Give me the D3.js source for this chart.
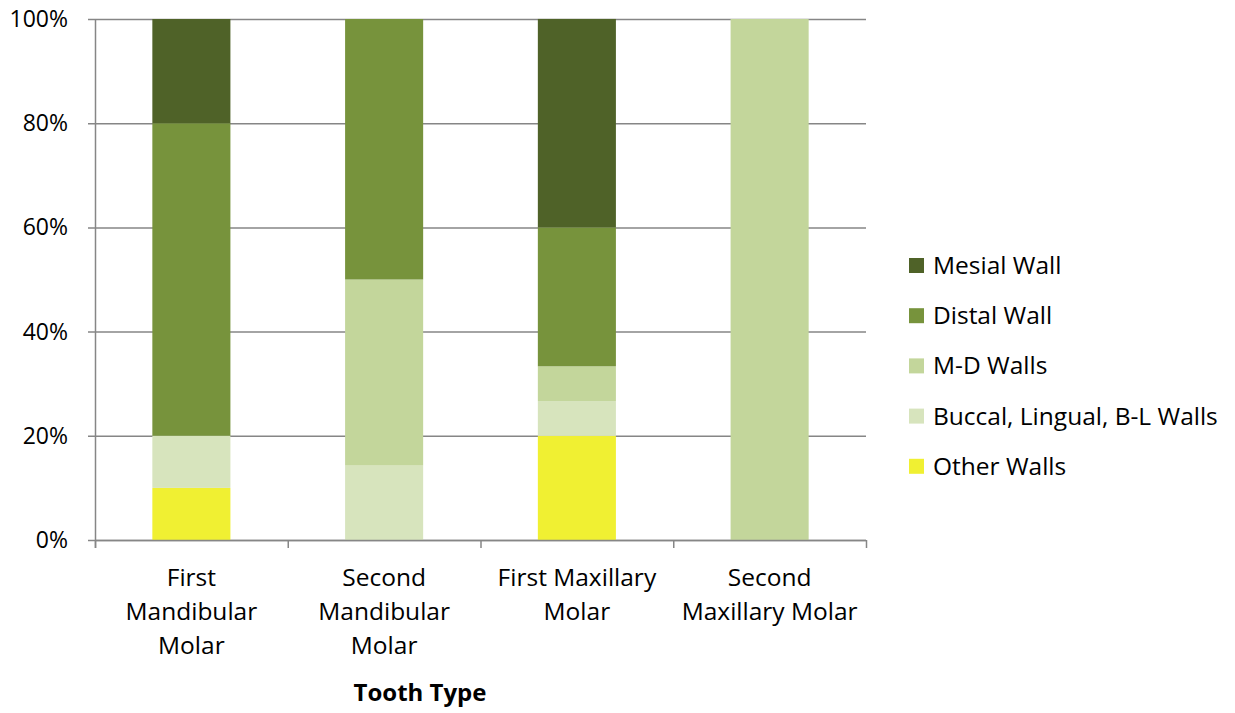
<!DOCTYPE html>
<html>
<head>
<meta charset="utf-8">
<script src="https://cdn.jsdelivr.net/npm/d3@7"></script>
<style>
  body { margin: 0; background: #fff; }
  text { font-family: "Open Sans", "Liberation Sans", sans-serif; fill: #000; }
</style>
</head>
<body>
<svg id="chart" width="1235" height="713"></svg>
<script>
// Tooth types (x categories), each label split into display lines
const categories = ["First Mandibular Molar", "Second Mandibular Molar", "First Maxillary Molar", "Second Maxillary Molar"];
const categoryLines = [
  ["First", "Mandibular", "Molar"],
  ["Second", "Mandibular", "Molar"],
  ["First Maxillary", "Molar"],
  ["Second", "Maxillary Molar"]
];

// Share of each wall type per tooth type (percent), stacked bottom to top
const seriesNames = ["Other Walls", "Buccal, Lingual, B-L Walls", "M-D Walls", "Distal Wall", "Mesial Wall"];
const otherWalls   = [10, 0, 20, 0];
const buccalWalls  = [10, 14.29, 6.67, 0];
const mdWalls      = [0, 35.71, 6.67, 100];
const distalWall   = [60, 50, 26.67, 0];
const mesialWall   = [20, 0, 40, 0];
const seriesColors = ["#F0F032", "#D7E4BD", "#C3D69B", "#77933C", "#4F6228"];

const yTicks = [0, 20, 40, 60, 80, 100];
const xTitle = "Tooth Type";

const seriesValues = [otherWalls, buccalWalls, mdWalls, distalWall, mesialWall];
const rows = categories.map((c, i) => {
  const r = { cat: c };
  seriesNames.forEach((s, j) => { r[s] = seriesValues[j][i]; });
  return r;
});

const svg = d3.select("#chart");
const margin = { left: 95, right: 369, top: 19, bottom: 173 };
const W = 1235, H = 713;
const plotW = W - margin.left - margin.right;
const plotH = H - margin.top - margin.bottom;

const g = svg.append("g").attr("transform", `translate(${margin.left},${margin.top})`);

const x = d3.scaleBand().domain(categories).range([0, plotW]).paddingInner(0.595).paddingOuter(0.2975);
const y = d3.scaleLinear().domain([0, 100]).range([plotH, 0]);

// Horizontal gridlines
g.selectAll("line.grid").data(yTicks).join("line")
  .attr("x1", -7).attr("x2", plotW)
  .attr("y1", d => y(d) + 0.5).attr("y2", d => y(d) + 0.5)
  .attr("stroke", "#868686").attr("stroke-width", 1.5);

// Stacked bars
const stack = d3.stack().keys(seriesNames);
const layers = stack(rows);
g.selectAll("g.layer").data(layers).join("g")
  .attr("fill", (d, i) => seriesColors[i])
  .selectAll("rect").data(d => d).join("rect")
  .attr("x", d => x(d.data.cat))
  .attr("width", x.bandwidth())
  .attr("y", d => y(d[1]))
  .attr("height", d => Math.max(0, y(d[0]) - y(d[1])));

// Y axis line and labels
g.append("line").attr("x1", 0.5).attr("x2", 0.5).attr("y1", 0).attr("y2", plotH + 8)
  .attr("stroke", "#868686").attr("stroke-width", 1.5);
g.selectAll("text.ytick").data(yTicks).join("text")
  .attr("x", -27).attr("y", d => y(d))
  .attr("dy", "0.35em").attr("text-anchor", "end")
  .style("font-size", "23px")
  .text(d => d + "%");

// X axis category separators
const step = x.step();
const seps = d3.range(categories.length + 1);
g.selectAll("line.xsep").data(seps).join("line")
  .attr("x1", d => Math.min(d * step, plotW) + 0.5).attr("x2", d => Math.min(d * step, plotW) + 0.5)
  .attr("y1", plotH).attr("y2", plotH + 8)
  .attr("stroke", "#868686").attr("stroke-width", 1.5);
g.append("line").attr("x1", 0).attr("x2", plotW).attr("y1", plotH + 0.5).attr("y2", plotH + 0.5)
  .attr("stroke", "#868686").attr("stroke-width", 1.5);

// Category labels
g.selectAll("text.xlab").data(categories).join("text")
  .attr("text-anchor", "middle")
  .attr("transform", d => `translate(${x(d) + x.bandwidth() / 2},${plotH + 46})`)
  .style("font-size", "24.5px")
  .each(function(d, i) {
    d3.select(this).selectAll("tspan").data(categoryLines[i]).join("tspan")
      .attr("x", 0).attr("y", (t, k) => k * 34)
      .text(t => t);
  });

// Axis title
svg.append("text")
  .attr("x", 420).attr("y", 701)
  .attr("text-anchor", "middle")
  .style("font-size", "24px").style("font-weight", "bold")
  .text(xTitle);

// Legend (top to bottom: last series first)
const legendItems = seriesNames.map((s, i) => ({ name: s, color: seriesColors[i] })).reverse();
const legend = svg.append("g").attr("transform", "translate(909,258)");
const li = legend.selectAll("g").data(legendItems).join("g")
  .attr("transform", (d, i) => `translate(0,${i * 50.2})`);
li.append("rect").attr("width", 15).attr("height", 15).attr("fill", d => d.color);
li.append("text").attr("x", 24).attr("y", 7.5).attr("dy", "0.35em")
  .style("font-size", "24.5px").text(d => d.name);
</script>
</body>
</html>
